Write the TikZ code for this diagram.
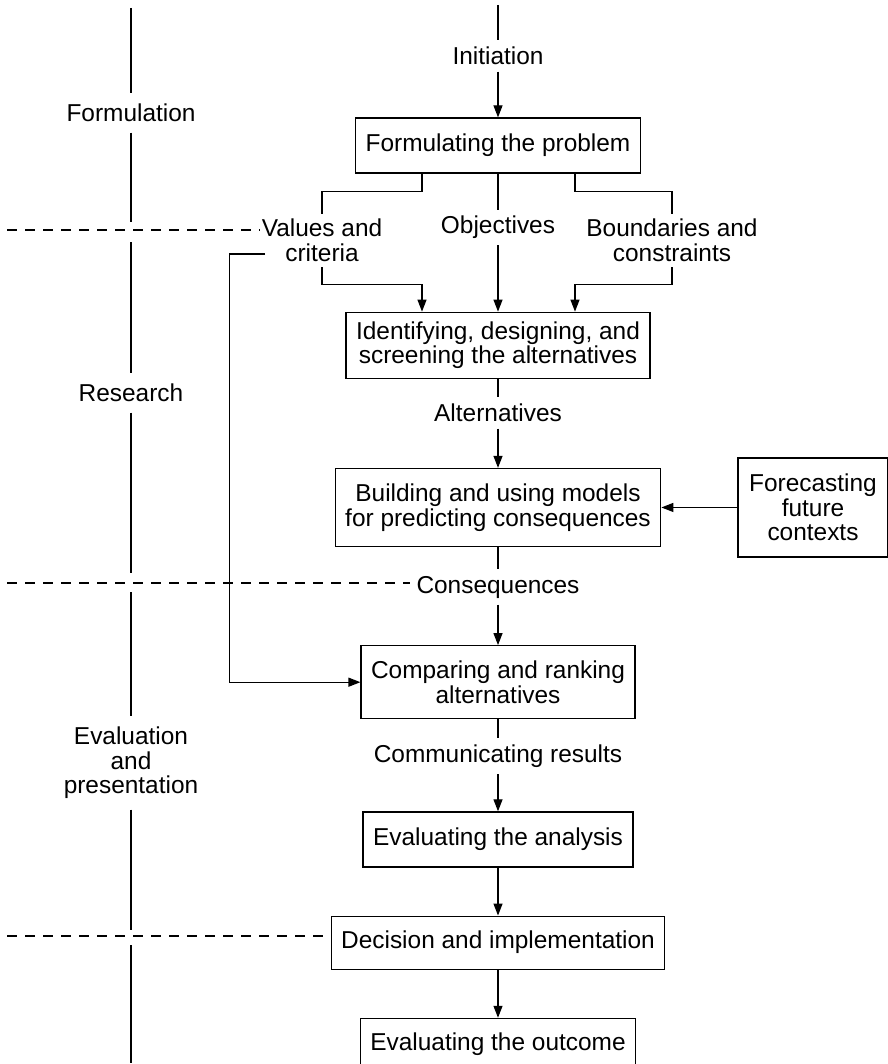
\documentclass[tikz,border=0pt]{standalone}
\usepackage{fontspec}
\setmainfont{Liberation Sans}
\usetikzlibrary{positioning,arrows.meta}
\begin{document}
\begin{tikzpicture}[line width=0.7pt,
  box/.style={rectangle,draw,inner xsep=0.2cm,minimum height=1.1cm,align=center},
  lbl/.style={inner sep=0.12cm,align=center},
  phase/.style={inner sep=0.2cm,align=center},
  arr/.style={-{Triangle[length=0.24cm,width=0.18cm]}},
  sep/.style={dash pattern=on 0.2cm off 0.16cm},
  font=\fontsize{13.9pt}{14pt}\selectfont]
  \useasboundingbox (0,0) rectangle (17.74,-21.28);
  \node[box](form) at (9.96,-2.91){Formulating the problem};
  \node[box,minimum height=1.32cm,below=2.76cm of form](ident){Identifying, designing, and\\screening the alternatives};
  \node[box,minimum height=1.56cm,below=1.78cm of ident](build){Building and using models\\for predicting consequences};
  \node[box,minimum width=3cm,minimum height=1.98cm,right=1.52cm of build](fore){Forecasting\\future\\contexts};
  \node[box,minimum height=1.46cm,below=1.96cm of build](comp){Comparing and ranking\\alternatives};
  \node[box,below=1.84cm of comp](evana){Evaluating the analysis};
  \node[box,minimum height=1.06cm,below=0.96cm of evana](dec){Decision and implementation};
  \node[box,minimum height=1.04cm,below=0.96cm of dec](outc){Evaluating the outcome};
  \node[lbl](init) at (9.96,-1.12){Initiation};
  \node[lbl](obj) at (9.96,-4.55){Objectives};
  \node[lbl,inner sep=0.1cm](val) at (6.44,-4.81){Values and\\criteria};
  \node[lbl,inner sep=0.1cm](bnd) at (13.44,-4.81){Boundaries and\\constraints};
  \node[lbl](alt) at (9.96,-8.26){Alternatives};
  \node[lbl](cons) at (9.96,-11.74){Consequences};
  \node[lbl](comm) at (9.96,-15.12){Communicating results};
  \node[phase](formul) at (2.62,-2.26){Formulation};
  \node[phase](resea) at (2.62,-7.86){Research};
  \node[phase](evalp) at (2.62,-15.26){Evaluation\\and\\presentation};
  \coordinate (top) at (9.96,-0.1);
  \coordinate (ax0) at (2.62,-0.16);
  \coordinate (g1a) at (2.62,-4.44); \coordinate (g1b) at (2.62,-4.84);
  \coordinate (g2a) at (2.62,-11.46); \coordinate (g2b) at (2.62,-11.84);
  \coordinate (g3a) at (2.62,-18.6); \coordinate (g3b) at (2.62,-18.9);
  \coordinate (ax1) at (2.62,-21.26);
  \coordinate (d1) at (0.14,-4.6); \coordinate (d2) at (0.14,-11.66); \coordinate (d3) at (0.14,-18.72);
  \draw (top)--(init); \draw[arr](init)--(form);
  \draw (form)--(obj); \draw[arr](obj)--(ident);
  \draw ([xshift=-1.52cm]form.south)--++(0,-0.36)-|(val.north);
  \draw ([xshift=1.54cm]form.south)--++(0,-0.36)-|(bnd.north);
  \draw[arr](val.south)--++(0,-0.34)-|([xshift=-1.52cm]ident.north);
  \draw[arr](bnd.south)--++(0,-0.34)-|([xshift=1.54cm]ident.north);
  \draw[arr]([xshift=0.18cm,yshift=-0.27cm]val.west)--++(-0.72,0)|-(comp.west);
  \draw (ident)--(alt); \draw[arr](alt)--(build);
  \draw[arr](fore.west)--(fore.west-|build.east);
  \draw (build)--(cons); \draw[arr](cons)--(comp);
  \draw (comp)--(comm); \draw[arr](comm)--(evana);
  \draw[arr](evana)--(dec); \draw[arr](dec)--(outc);
  \draw (ax0)--(formul)--(g1a);
  \draw (g1b)--(resea)--(g2a);
  \draw (g2b)--(evalp)--(g3a);
  \draw (g3b)--(ax1);
  \draw[sep](d1)--([xshift=0.08cm]d1-|val.west);
  \draw[sep](d2)--(d2-|cons.west);
  \draw[sep](d3)--(d3-|dec.west);
\end{tikzpicture}
\end{document}
